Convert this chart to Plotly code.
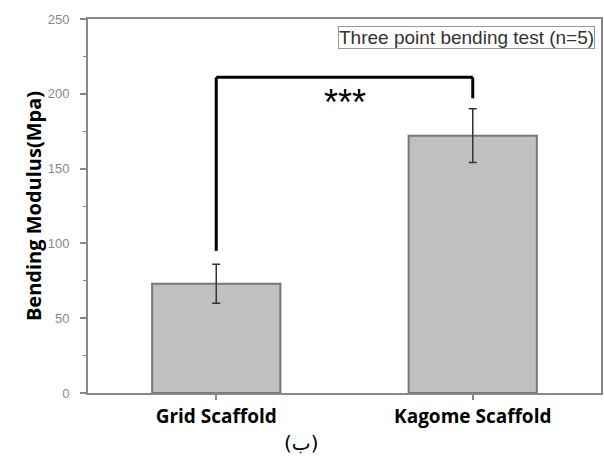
import plotly.graph_objects as go

# Three point bending results
categories = ["Grid Scaffold", "Kagome Scaffold"]
modulus_mean = [73, 172]
modulus_sd = [13, 18]

# Significance bracket: bar indices, top level and leg ends
bracket_x = [0, 1]
bracket_top = 211
bracket_leg_ends = [95, 197]
significance = "***"
significance_y = 194

y_ticks = [0, 50, 100, 150, 200, 250]

fig = go.Figure()
fig.add_trace(go.Bar(
    x=[0, 1],
    y=modulus_mean,
    width=0.5,
    marker=dict(color="#c0c0c0", line=dict(color="#777777", width=2)),
    error_y=dict(type="data", array=modulus_sd, visible=True,
                 color="#333333", thickness=1.5, width=4),
    showlegend=False,
))

# Bracket between the two bars
line_style = dict(color="black", width=3)
fig.add_shape(type="line", xref="x", yref="y",
              x0=bracket_x[0], x1=bracket_x[1], y0=bracket_top, y1=bracket_top,
              line=line_style)
for xi, yend in zip(bracket_x, bracket_leg_ends):
    fig.add_shape(type="line", xref="x", yref="y",
                  x0=xi, x1=xi, y0=yend, y1=bracket_top, line=line_style)

fig.add_annotation(x=0.5, y=significance_y, xref="x", yref="y",
                   text=significance, showarrow=False,
                   font=dict(family="Liberation Sans", size=36, color="black"))

# Test description box
fig.add_annotation(x=0.988, y=0.981, xref="paper", yref="paper",
                   xanchor="right", yanchor="top",
                   text="Three point bending test (n=5)", showarrow=False,
                   font=dict(family="Liberation Sans", size=19, color="#333333"),
                   bordercolor="#999999", borderwidth=1, borderpad=0,
                   bgcolor="white")

# Panel caption
fig.add_annotation(x=0.416, y=-0.134, xref="paper", yref="paper",
                   xanchor="center", yanchor="middle",
                   text="(ب)", showarrow=False,
                   font=dict(family="DejaVu Sans", size=20, color="black"))

fig.update_layout(
    width=604, height=459,
    margin=dict(l=88, r=1, t=19, b=66),
    plot_bgcolor="white", paper_bgcolor="white",
    bargap=0.5,
    xaxis=dict(
        range=[-0.5, 1.5],
        tickvals=[0, 1], ticktext=categories,
        showline=True, linecolor="#888888", linewidth=2, mirror=True,
        ticks="outside", ticklen=5, tickcolor="#888888", tickwidth=2,
        tickfont=dict(family="Open Sans", size=19, color="black", weight="bold"),
        showgrid=False, zeroline=False,
    ),
    yaxis=dict(
        range=[0, 250],
        tickvals=y_ticks,
        showline=True, linecolor="#888888", linewidth=2, mirror=True,
        ticks="outside", ticklen=6, tickcolor="#888888", tickwidth=2,
        ticklabelstandoff=8,
        minor=dict(dtick=25, ticks="outside", ticklen=3, tickcolor="#888888", tickwidth=1),
        tickfont=dict(family="Liberation Sans", size=13, color="#888888"),
        showgrid=False, zeroline=False,
        title=dict(text="Bending Modulus(Mpa)", standoff=1,
                   font=dict(family="Open Sans", size=20, color="black", weight="bold")),
    ),
)

fig.write_html("out.html")
